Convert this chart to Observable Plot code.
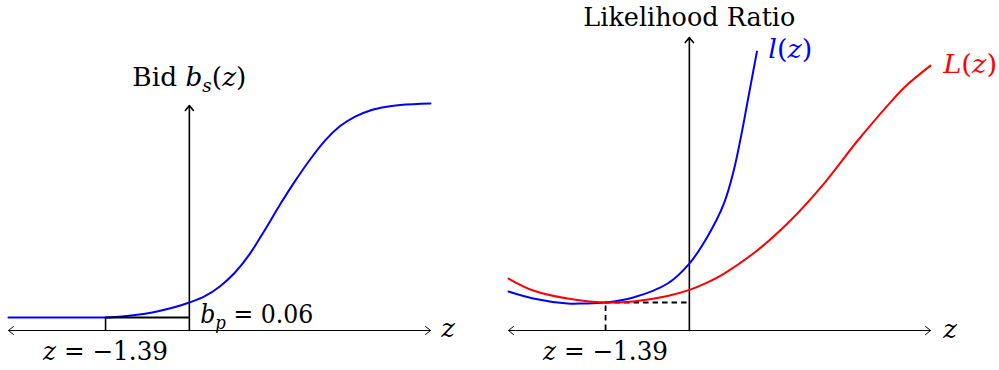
<!DOCTYPE html>
<html><head><meta charset="utf-8">
<script src="https://cdn.jsdelivr.net/npm/d3@7"></script>
<script src="https://cdn.jsdelivr.net/npm/@observablehq/plot@0.6"></script>
<style>
body{margin:0;background:#fff;}
#wrap{display:flex;width:999px;height:370px;}
#wrap svg{flex:none;}
</style></head><body><div id="wrap"></div>
<script>
// reference point
const zp = -1.39, bp = 0.06, lrp = 1.0;
// Left panel: bid function b_s(z)
const bidZ = [-3, -2, -1.39, -1.0, -0.5, 0, 0.25, 0.5, 0.75, 1.0, 1.25, 1.5, 1.75, 2.0, 2.25, 2.5, 2.75, 3.0, 3.25, 3.5, 4.0];
const bidB = [0.06, 0.06, 0.06, 0.068, 0.09, 0.129, 0.157, 0.202, 0.265, 0.352, 0.462, 0.578, 0.687, 0.787, 0.875, 0.942, 0.986, 1.014, 1.03, 1.039, 1.046];
// Right panel: likelihood ratios
const lZ = [-3, -2.59, -2.02, -1.76, -1.39, -0.93, -0.36, 0, 0.295, 0.571, 0.736, 0.876, 0.959, 1.013, 1.121];
const lR = [1.393, 1.143, 0.964, 0.964, 1.0, 1.179, 1.679, 2.39, 3.33, 4.52, 5.71, 7.14, 8.1, 8.72, 9.96];
const LZ = [-3, -2.59, -2.02, -1.39, -0.93, -0.36, 0, 0.295, 0.571, 1.125, 1.677, 2.23, 2.78, 3.335, 3.6, 4.0];
const LR = [1.857, 1.429, 1.143, 1.0, 1.036, 1.23, 1.45, 1.71, 2.025, 2.857, 3.929, 5.24, 6.75, 8.15, 8.75, 9.46];
// labels
const leftTexts = ["Bid b_s(z)", "b_p = 0.06", "z = \u22121.39", "z"];
const rightTexts = ["Likelihood Ratio", "l(z)", "L(z)", "z = \u22121.39", "z"];

const FONT = "DejaVu Serif";
const FS = 26;
const zip = (xs, ys) => xs.map((x, i) => ({z: x, v: ys[i]}));
const label = (txt, z, v, anchor, color) =>
  Plot.text([txt], {x: () => z, y: () => v, text: d => d, textAnchor: anchor, lineAnchor: "bottom", fill: color, fontSize: FS, fontFamily: FONT});
const axisArrow = (x1, y1, x2, y2, sw, hl, ha) =>
  Plot.arrow([0], {x1: () => x1, y1: () => y1, x2: () => x2, y2: () => y2, stroke: "black", strokeWidth: sw, headLength: hl, headAngle: ha});

const left = Plot.plot({
  width: 490, height: 370, margin: 0,
  x: {domain: [-3, 4], range: [8, 430], axis: null},
  y: {domain: [0, 1], range: [330, 113], axis: null},
  style: {background: "white", overflow: "visible"},
  marks: [
    axisArrow(0, 0, -3, 0, 1, 9.6, 78),
    axisArrow(0, 0, 4, 0, 1, 9.6, 78),
    axisArrow(0, 0, 0, 1.037, 1.6, 6, 78),
    Plot.line(zip(bidZ, bidB), {x: "z", y: "v", stroke: "#0000ff", strokeWidth: 2, curve: "monotone-x"}),
    Plot.ruleY([bp], {x1: zp, x2: 0, stroke: "black", strokeWidth: 2}),
    Plot.ruleX([zp], {y1: 0, y2: bp, stroke: "black", strokeWidth: 1.6}),
    label(leftTexts[0], 0, 1.129, "middle", "black"),
    label(leftTexts[1], 0.18, 0.034, "start", "black"),
    label(leftTexts[2], zp, -0.134, "middle", "black"),
    label(leftTexts[3], 4.18, -0.028, "start", "black")
  ]
});

const right = Plot.plot({
  width: 509, height: 370, margin: 0,
  x: {domain: [-3, 4], range: [18, 440], axis: null},
  y: {domain: [0, 10], range: [330, 50], axis: null},
  style: {background: "white", overflow: "visible"},
  marks: [
    axisArrow(0, 0, -3, 0, 1, 9.6, 78),
    axisArrow(0, 0, 4, 0, 1, 9.6, 78),
    axisArrow(0, 0, 0, 10.46, 1.6, 6, 78),
    Plot.ruleY([lrp], {x1: zp, x2: 0, stroke: "black", strokeWidth: 1.8, strokeDasharray: "5.5,4"}),
    Plot.ruleX([zp], {y1: 0, y2: lrp, stroke: "black", strokeWidth: 1.8, strokeDasharray: "5.5,4"}),
    Plot.line(zip(lZ, lR), {x: "z", y: "v", stroke: "#0000ff", strokeWidth: 2, curve: "catmull-rom"}),
    Plot.line(zip(LZ, LR), {x: "z", y: "v", stroke: "#ff0000", strokeWidth: 2, curve: "catmull-rom"}),
    label(rightTexts[0], 0, 10.89, "middle", "black"),
    label(rightTexts[1], 1.31, 9.75, "start", "#0000ff"),
    label(rightTexts[2], 4.21, 9.21, "start", "#ff0000"),
    label(rightTexts[3], zp, -1.036, "middle", "black"),
    label(rightTexts[4], 4.21, -0.25, "start", "black")
  ]
});

// simple math typesetting: italic variables and subscripts
const mathSpecs = {
  "Bid b_s(z)": [["Bid ", "n"], ["b", "i"], ["s", "sub"], ["(", "n"], ["z", "i"], [")", "n"]],
  "b_p = 0.06": [["b", "i"], ["p", "sub"], [" = 0.06", "n"]],
  "z = \u22121.39": [["z", "i"], [" = \u22121.39", "n"]],
  "z": [["z", "i"]],
  "Likelihood Ratio": [["Likelihood Ratio", "n"]],
  "l(z)": [["l", "i"], ["(", "n"], ["z", "i"], [")", "n"]],
  "L(z)": [["L", "i"], ["(", "n"], ["z", "i"], [")", "n"]]
};
const widths = {"Bid b_s(z)": 114, "b_p = 0.06": 113, "z = \u22121.39": 125, "Likelihood Ratio": 212, "l(z)": 44, "L(z)": 54};
function typeset(svg) {
  svg.querySelectorAll("text").forEach(t => {
    const key = t.textContent;
    const spec = mathSpecs[key];
    if (!spec) return;
    t.textContent = "";
    t.setAttribute("font-family", FONT);
    t.style.fontFamily = "'" + FONT + "', serif";
    t.style.fontWeight = "normal";
    let shifted = false;
    for (const [s, k] of spec) {
      const ts = document.createElementNS("http://www.w3.org/2000/svg", "tspan");
      ts.textContent = s;
      if (k === "i" || k === "sub") ts.setAttribute("font-style", "italic");
      if (k === "sub") { ts.setAttribute("font-size", FS * 0.7); ts.setAttribute("dy", 6); shifted = true; }
      else if (shifted) { ts.setAttribute("dy", -6); shifted = false; }
      t.appendChild(ts);
    }
    if (widths[key]) { t.setAttribute("textLength", widths[key]); t.setAttribute("lengthAdjust", "spacingAndGlyphs"); }
  });
}
typeset(left); typeset(right);
document.getElementById("wrap").append(left, right);
</script></body></html>
